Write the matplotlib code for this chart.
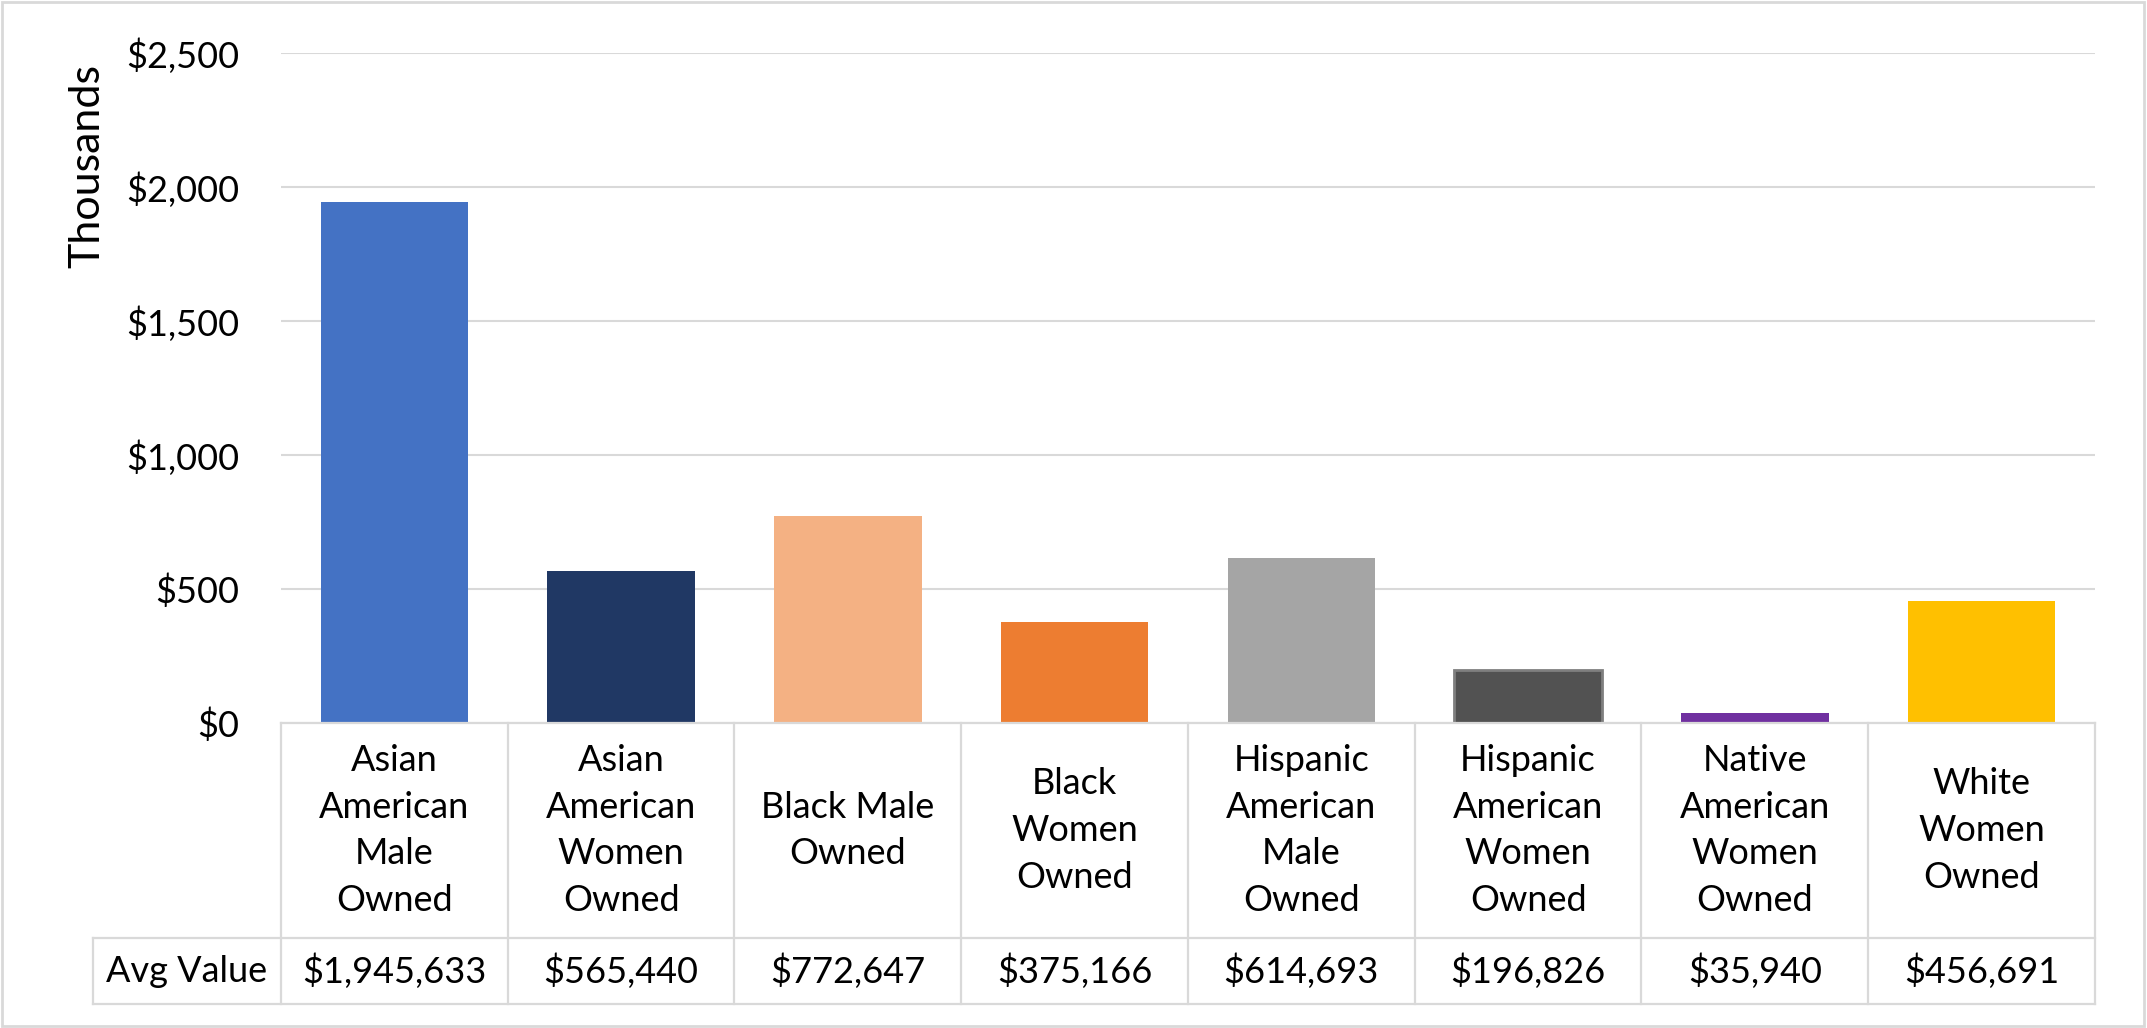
import numpy as np
import matplotlib.pyplot as plt
from matplotlib.patches import Rectangle

# chart data (values in dollars)
categories = ["Asian\nAmerican\nMale\nOwned", "Asian\nAmerican\nWomen\nOwned",
              "Black Male\nOwned", "Black\nWomen\nOwned", "Hispanic\nAmerican\nMale\nOwned",
              "Hispanic\nAmerican\nWomen\nOwned", "Native\nAmerican\nWomen\nOwned",
              "White\nWomen\nOwned"]
avg_value = [1945633, 565440, 772647, 375166, 614693, 196826, 35940, 456691]
bar_colors = ["#4472C4", "#203864", "#F4B183", "#ED7D31", "#A5A5A5", "#525252",
              "#7030A0", "#FFC000"]
row_label = "Avg Value"
y_ticks = [0, 500, 1000, 1500, 2000, 2500]

plt.rcParams['font.family'] = ['Lato', 'DejaVu Sans']

W, H = 2147, 1028
fig = plt.figure(figsize=(W / 100, H / 100), dpi=100)
grid_c = "#D9D9D9"
fs = 26

# pixel layout helpers
def fx(px):
    return px / W

def fy(py):
    return 1 - py / H

plot_l, plot_r = 281, 2095
y0_px, ytop_px = 723, 53
tbl_bot, val_top = 1004, 938
cell_l = 93

# Main bar axes
ax = fig.add_axes([fx(plot_l), fy(y0_px), fx(plot_r) - fx(plot_l), fy(ytop_px) - fy(y0_px)])
x = np.arange(len(categories))
vals_k = np.array(avg_value) / 1000.0
bars = ax.bar(x, vals_k, width=0.65, color=bar_colors, zorder=3)
bars[5].set_edgecolor("#7F7F7F")
bars[5].set_linewidth(2)
ax.set_xlim(-0.5, len(categories) - 0.5)
ax.set_ylim(0, 2500)
ax.set_yticks(y_ticks)
ax.set_yticklabels(["${:,}".format(v) for v in y_ticks], fontsize=fs)
ax.tick_params(axis='y', length=0, pad=30)
ax.set_xticks([])
ax.yaxis.grid(True, color=grid_c, linewidth=1.5, zorder=0)
for s in ax.spines.values():
    s.set_visible(False)

fig.text(fx(87), fy(166), "Thousands", rotation=90, ha='center', va='center', fontsize=31)

# Data table below the chart
col_w = (plot_r - plot_l) / len(categories)
tax = fig.add_axes([fx(cell_l), fy(tbl_bot), fx(plot_r) - fx(cell_l), fy(y0_px) - fy(tbl_bot)])
left_lim = -0.5 - (plot_l - cell_l) / col_w
tax.set_xlim(left_lim, len(categories) - 0.5)
tax.set_ylim(0, 1)
tax.axis('off')
v_frac = (tbl_bot - val_top) / (tbl_bot - y0_px)
lw = 1.6
kw = dict(color=grid_c, linewidth=lw, clip_on=False, solid_capstyle='projecting')
tax.plot([-0.5, len(categories) - 0.5], [1, 1], **kw)
tax.plot([left_lim, len(categories) - 0.5], [v_frac, v_frac], **kw)
tax.plot([left_lim, len(categories) - 0.5], [0, 0], **kw)
tax.plot([left_lim, left_lim], [0, v_frac], **kw)
for b in np.arange(len(categories) + 1) - 0.5:
    tax.plot([b, b], [0, 1], **kw)

for i, (cat, v) in enumerate(zip(categories, avg_value)):
    tax.text(i, (1 + v_frac) / 2, cat, ha='center', va='center', fontsize=fs, linespacing=1.5)
    tax.text(i, v_frac / 2, "${:,}".format(v), ha='center', va='center', fontsize=fs)
tax.text((left_lim - 0.5) / 2, v_frac / 2, row_label, ha='center', va='center', fontsize=fs)

# outer chart border
fig.patches.append(Rectangle((fx(2), fy(1026)), fx(2142), fy(2) - fy(1026),
                             transform=fig.transFigure, fill=False,
                             edgecolor=grid_c, linewidth=2))

fig.savefig("out.png", dpi=100)
